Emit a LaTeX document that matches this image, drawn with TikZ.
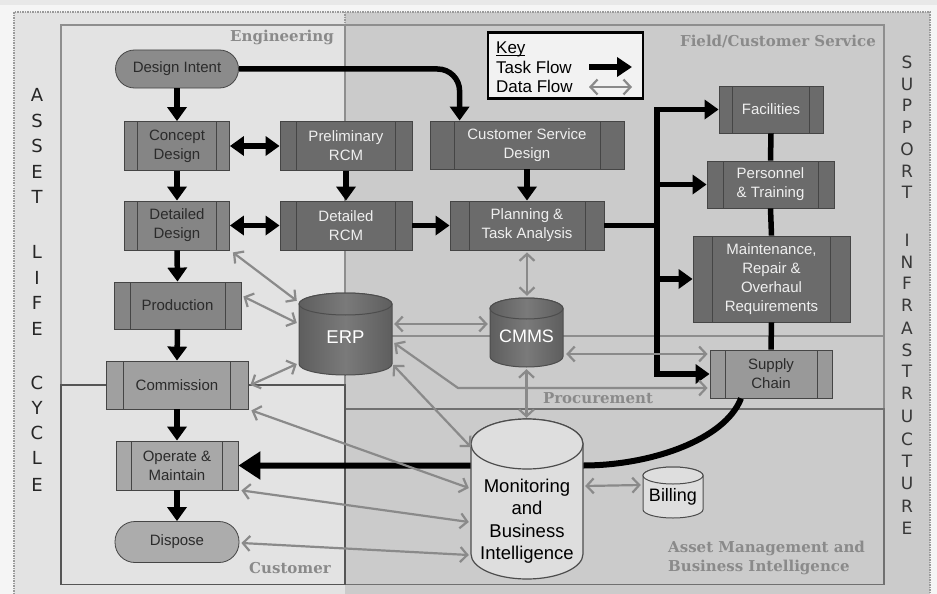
\documentclass[tikz,border=0pt]{standalone}
\usepackage{fontspec}
\setmainfont{Liberation Sans}
\newfontfamily\regionfont{DejaVu Serif}
\newfontfamily\spinefont{DejaVu Sans}
\usetikzlibrary{arrows.meta,calc}

\definecolor{pagebg}{HTML}{F5F5F5}
\definecolor{stripbg}{HTML}{E8E8E8}
\definecolor{leftbg}{HTML}{E3E3E3}
\definecolor{rightbg}{HTML}{CBCBCB}
\definecolor{framedash}{HTML}{9A9A9A}
\definecolor{regionline}{HTML}{8E8E8E}
\definecolor{custline}{HTML}{555555}
\definecolor{amline}{HTML}{707070}
\definecolor{regiontext}{HTML}{8A8A8A}
\definecolor{boxedge}{HTML}{454545}
\definecolor{darkfill}{HTML}{6B6B6B}
\definecolor{midfill}{HTML}{858585}
\definecolor{intentfill}{HTML}{8B8B8B}
\definecolor{commfill}{HTML}{A0A0A0}
\definecolor{opfill}{HTML}{A8A8A8}
\definecolor{dispfill}{HTML}{ACACAC}
\definecolor{scfill}{HTML}{999999}
\definecolor{lighttext}{HTML}{EFEFEF}
\definecolor{darktext}{HTML}{2B2B2B}
\definecolor{drumdark}{HTML}{7A7A7A}
\definecolor{drumside}{HTML}{5E5E5E}
\definecolor{drumedge}{HTML}{4D4D4D}
\definecolor{drumlight}{HTML}{DEDEDE}
\definecolor{flowgray}{HTML}{8A8A8A}
\definecolor{keyfill}{HTML}{F2F2F2}
\definecolor{spinetext}{HTML}{262626}

% cylinder: centre x, top y, bottom y, x radius, y radius, path style
\newcommand{\drum}[6]{%
  \path[#6] (#1-#4,#2+#5) -- (#1-#4,#3-#5)
     arc[start angle=180,end angle=0,x radius=#4,y radius=#5]
     -- (#1+#4,#2+#5)
     arc[start angle=0,end angle=-180,x radius=#4,y radius=#5] -- cycle;
  \path[#6] (#1,#2+#5) ellipse[x radius=#4,y radius=#5];}

\begin{document}
\begin{tikzpicture}[x=1pt,y=-1pt,
  sidebar/.store in=\sidebarw, sidebar=14pt,
  proc/.style={rectangle, draw=boxedge, line width=0.8pt, align=center,
    inner sep=2pt, font=\fontsize{15}{18.8}\selectfont,
    path picture={\draw[boxedge, line width=0.8pt]
      ([xshift=\sidebarw]path picture bounding box.north west) --
      ([xshift=\sidebarw]path picture bounding box.south west)
      ([xshift=-\sidebarw]path picture bounding box.north east) --
      ([xshift=-\sidebarw]path picture bounding box.south east);}},
  darkbox/.style={proc, fill=darkfill, text=lighttext},
  midbox/.style={proc, fill=midfill, text=darktext},
  stadium/.style={rectangle, rounded corners=19pt, draw=boxedge,
    line width=0.8pt, text=darktext, font=\fontsize{15}{18.8}\selectfont},
  holder/.style={rectangle, draw=none, inner sep=0pt},
  drumtext/.style={inner sep=0pt, align=center, font=\fontsize{18.5}{22.5}\selectfont},
  darkdrum/.style={left color=drumside, right color=drumside, middle color=drumdark,
    draw=drumedge, line width=1pt},
  lightdrum/.style={fill=drumlight, draw=drumedge},
  region/.style={font=\regionfont\bfseries\fontsize{15}{19}\selectfont,
    text=regiontext, inner sep=0pt},
  spine/.style={font=\spinefont\fontsize{18}{18}\selectfont, text=spinetext, inner sep=0pt},
  tflow/.style={line width=5.5pt, -{Triangle[length=14pt,width=19pt]}},
  tflowtwo/.style={line width=5.5pt,
    {Triangle[length=14pt,width=19pt]}-{Triangle[length=14pt,width=19pt]}},
  tlink/.style={line width=5.5pt},
  dflow/.style={draw=flowgray, line width=2.2pt,
    {Straight Barb[length=7pt,width=15pt]}-{Straight Barb[length=7pt,width=15pt]}}]

\useasboundingbox (0,0) rectangle (937,594);

% ---------- backgrounds and frame ----------
\fill[pagebg] (0,0) rectangle (937,594);
\fill[stripbg] (0,0) rectangle (937,5);
\fill[leftbg] (14,12) rectangle (345,594);
\fill[rightbg] (345,12) rectangle (930,594);
\draw[framedash, line width=1.2pt, dash pattern=on 1.5pt off 1pt]
  (14,594) -- (14,12) -- (930,12) -- (930,594);
\draw[framedash, line width=1.2pt, dash pattern=on 1.5pt off 1pt] (345,12) -- (345,25);

% ---------- regions ----------
\draw[regionline, line width=1.5pt] (61,385) -- (61,25) -- (345,25) -- (345,385);
\draw[regionline, line width=1.5pt] (345,25) rectangle (884,336);
\draw[regionline, line width=1.5pt] (345,336) rectangle (884,409);
\draw[amline, line width=1.5pt] (345,409) rectangle (884,584.5);
\draw[custline, line width=1.5pt] (61,385) rectangle (345,584.5);

\node[region] (engl) at (282,37) {Engineering};
\node[region, anchor=east] (fcsl) at (876,41) {Field/Customer Service};
\node[region] (procl) at (598,398) {Procurement};
\node[region] (custl) at (290,568) {Customer};
\node[region, anchor=north west, align=left] (ambl) at (668,541)
  {Asset Management and\\Business Intelligence};

% ---------- side captions ----------
\foreach \ch/\yy [count=\i] in {A/95,S/121,S/146,E/172,T/197,L/252,I/278,F/303,E/329,
    C/383,Y/408,C/433,L/458,E/485}
  \node[spine] (alc\i) at (37,\yy) {\ch};
\foreach \ch/\yy [count=\i] in {S/62,U/84,P/105,P/127,O/149,R/171,T/192,I/240,N/262,
    F/283,R/305,A/328,S/350,T/371,R/393,U/416,C/439,T/461,U/483,R/506,E/528}
  \node[spine, font=\spinefont\fontsize{17}{17}\selectfont, text=black!78] (sup\i) at (907,\yy) {\ch};

% ---------- key ----------
\node[draw=black, line width=2.5pt, fill=keyfill, minimum width=155pt,
  minimum height=66pt, inner sep=0pt] (key) at (565.5,65.5) {};
\node[anchor=north west, align=left, inner sep=0pt,
  font=\fontsize{17}{19.5}\selectfont] (keytxt) at (496,42)
  {\underline{Ke\smash{y}}\\Task Flow\\Data Flow};
\coordinate (ka1) at (589,67);
\coordinate (ka2) at (632,67);
\coordinate (kb1) at (589,87);
\coordinate (kb2) at (632,87);
\draw[line width=6pt, -{Triangle[length=15pt,width=19pt]}] (ka1) -- (ka2);
\draw[dflow] (kb1) -- (kb2);

% ---------- process boxes ----------
\node[stadium, fill=intentfill, minimum width=123pt, minimum height=38pt] (di) at (177,69) {Design Intent};
\node[midbox, sidebar=13pt, minimum width=105pt, minimum height=49pt] (cd) at (177,146) {Concept\\Design};
\node[darkbox, sidebar=16.5pt, minimum width=132pt, minimum height=49pt] (prcm) at (346,146) {Preliminary\\RCM};
\node[darkbox, sidebar=24pt, minimum width=194pt, minimum height=48pt] (csd) at (527,145) {Customer Service\\Design};
\node[midbox, sidebar=13pt, minimum width=105pt, minimum height=49pt] (dd) at (177,225.5) {Detailed\\Design};
\node[darkbox, sidebar=16.5pt, minimum width=132pt, minimum height=49pt] (drcm) at (346,225.5) {Detailed\\RCM};
\node[darkbox, sidebar=19pt, minimum width=154pt, minimum height=49pt] (plan) at (527,225.5) {Planning \&\\Task Analysis};
\node[midbox, sidebar=16pt, minimum width=127pt, minimum height=47pt] (prod) at (177.5,305.5) {Production};
\node[proc, fill=commfill, text=darktext, sidebar=17.5pt, minimum width=142pt, minimum height=48pt] (comm) at (177,385) {Commission};
\node[proc, fill=opfill, text=darktext, sidebar=15.5pt, minimum width=122pt, minimum height=49pt] (op) at (177,465.5) {Operate \&\\Maintain};
\node[stadium, fill=dispfill, minimum width=124pt, minimum height=41pt, rounded corners=20pt] (disp) at (177,542) {Dispose};
\node[darkbox, sidebar=13.5pt, minimum width=104pt, minimum height=47pt] (fac) at (771,109.5) {Facilities};
\node[darkbox, sidebar=16pt, minimum width=127pt, minimum height=47pt] (pers) at (770.5,184.5) {Personnel\\\& Training};
\node[darkbox, sidebar=19.5pt, minimum width=157pt, minimum height=86pt] (mro) at (771.5,279) {Maintenance,\\Repair \&\\Overhaul\\Requirements};
\node[proc, fill=scfill, text=darktext, sidebar=15pt, minimum width=122pt, minimum height=48pt] (sc) at (771,374) {Supply\\Chain};

% place holders for the data stores
\node[holder, minimum width=93pt, minimum height=82pt] (erp) at (345.5,334) {};
\node[holder, minimum width=73pt, minimum height=69pt] (cmms) at (526.5,332.5) {};
\node[holder, minimum width=112pt, minimum height=160pt] (mbi) at (527,499) {};
\node[holder, minimum width=60pt, minimum height=51pt] (bill) at (673,492.5) {};

% ---------- task flow ----------
\draw[tflow] (di.south) -- (cd.north);
\draw[tflow, rounded corners=22pt] (di.east) -| ($(csd.north west)+(30,0)$);
\draw[tflowtwo] (cd.east) -- (prcm.west);
\draw[tflow] (cd.south) -- (dd.north);
\draw[tflow] (prcm.south) -- (drcm.north);
\draw[tflowtwo] (dd.east) -- (drcm.west);
\draw[tflow] (drcm.east) -- (plan.west);
\draw[tflow] (csd.south) -- (plan.north);
\draw[tflow] (dd.south) -- (prod.north);
\draw[tflow] (prod.south) -- (comm.north);
\draw[tflow] (comm.south) -- (op.north);
\draw[tflow] (op.south) -- (disp.north);

\coordinate (bus) at (657,225.5);
\draw[tlink] (plan.east) -- (bus);
\draw[tflowtwo] (fac.west) -| (bus |- sc.west) -- (sc.west);
\draw[tflow] (bus |- pers.west) -- (pers.west);
\draw[tflow] (bus |- mro.west) -- (mro.west);
\draw[tlink] (fac.south) -- (pers.north);
\draw[tlink] (pers.south) -- (mro.north);
\draw[tlink] (mro.south) -- (sc.north);
\coordinate (scfoot) at ($(sc.south)+(-30,0)$);
\coordinate (mbiright) at (op.east -| mbi.east);
\draw[line width=6pt, -{Triangle[length=22pt,width=27pt]}]
  (scfoot) .. controls (725,440) and (650,465.5) .. (mbiright) -- (op.east);

% ---------- data stores ----------
\drum{345.5}{293}{375}{46.5}{11}{darkdrum}
\drum{526.5}{298}{367}{36.5}{10.5}{darkdrum}
\drum{527}{419}{579}{56}{25}{lightdrum, line width=1.2pt}
\drum{673}{467}{518}{30}{8.5}{lightdrum, line width=1pt}

\node[drumtext, text=white] (erptxt) at (345.5,337) {ERP};
\node[drumtext, text=white, font=\fontsize{18}{22}\selectfont] (cmmstxt) at (526.5,336) {CMMS};
\node[drumtext, text=black] (mbitxt) at (527,521) {Monitoring\\and\\Business\\Intelligence};
\node[drumtext, text=black, font=\fontsize{18}{22}\selectfont] (billtxt) at (673,497) {Billing};

% ---------- data flow ----------
\draw[dflow] ($(dd.south east)+(3,2)$) -- ($(erp.north west)+(-2,8)$);
\draw[dflow] ($(prod.east)+(2,-9)$) -- ($(erp.west)+(-2,-11)$);
\draw[dflow] ($(comm.east)+(2,0)$) -- ($(erp.west)+(-2,30)$);
\draw[dflow] ($(erp.east)+(2,-10)$) -- ($(cmms.west)+(-2,-8.5)$);
\draw[dflow] ($(plan.south)+(0,2)$) -- ($(plan.south |- cmms.north)+(0,-2)$);
\draw[dflow] ($(cmms.south)+(0,2)$) -- ($(cmms.south |- mbi.north)+(0,-1)$);
\draw[dflow] ($(cmms.east)+(3,21.5)$) -- ($(sc.west)+(-2,-20)$);
\coordinate (erpbend) at (458,388);
\draw[dflow] ($(erp.east)+(2,9)$) -- (erpbend) -- ($(sc.west)+(-2,14)$);
\draw[dflow] ($(erp.east)+(1,31)$) -- ($(mbi.west)+(0,-52)$);
\draw[dflow] ($(comm.south east)+(3,1)$) -- ($(mbi.west)+(-2,-11)$);
\draw[dflow] ($(op.south east)+(3,0)$) -- ($(mbi.west)+(-2,23)$);
\draw[dflow] ($(disp.east)+(2,1)$) -- ($(mbi.west)+(-2,56)$);
\draw[dflow] ($(mbi.east)+(2,-13)$) -- ($(bill.west)+(-2,-7.5)$);

\end{tikzpicture}
\end{document}
